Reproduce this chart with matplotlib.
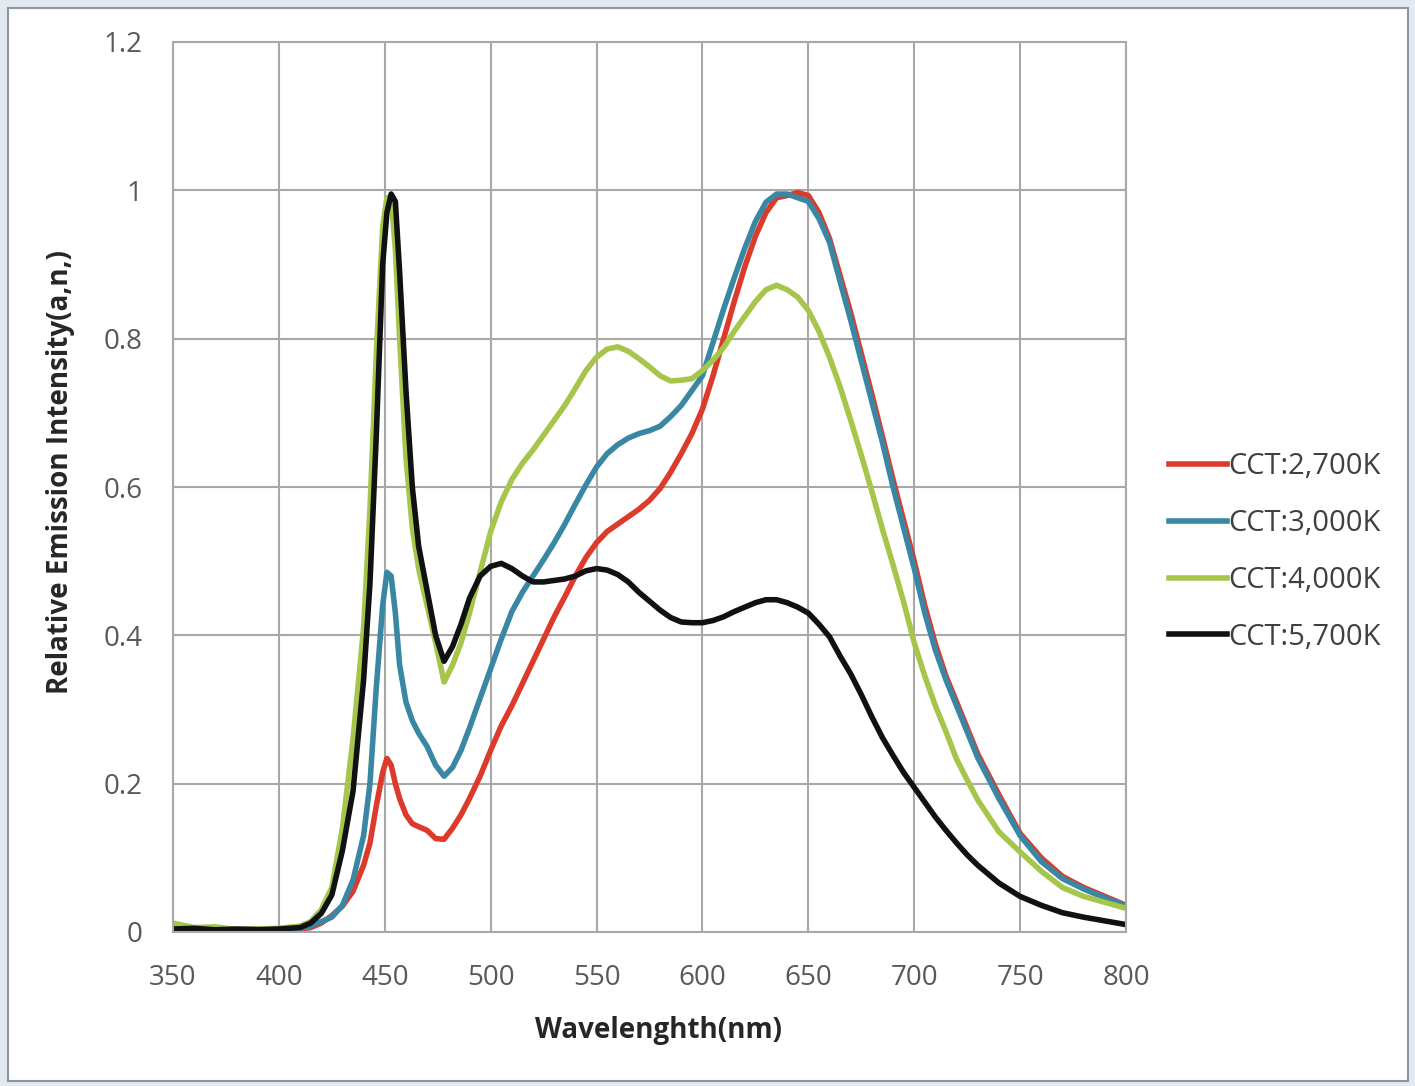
import matplotlib
matplotlib.use("Agg")
import matplotlib.pyplot as plt
from matplotlib.patches import Rectangle

plt.rcParams['font.family'] = ['Open Sans', 'DejaVu Sans']

wl = [350, 360, 370, 380, 390, 400, 410, 415, 420, 425, 430, 435, 440, 443, 446, 449,
      451, 453, 455, 457, 460, 463, 466, 470, 474, 478, 482, 486, 490, 495, 500, 505,
      510, 515, 520, 525, 530, 535, 540, 545, 550, 555, 560, 565, 570, 575, 580, 585,
      590, 595, 600, 605, 610, 615, 620, 625, 630, 635, 640, 645, 650, 655, 660, 665,
      670, 675, 680, 685, 690, 695, 700, 705, 710, 715, 720, 725, 730, 740, 750, 760,
      770, 780, 790, 800]

cct_2700 = [0.005, 0.004, 0.004, 0.003, 0.004, 0.004, 0.004, 0.006, 0.012, 0.022, 0.035, 0.055,
            0.09, 0.12, 0.17, 0.215, 0.234, 0.225, 0.2, 0.18, 0.158, 0.146, 0.142, 0.137,
            0.126, 0.125, 0.14, 0.158, 0.18, 0.21, 0.245, 0.278, 0.305, 0.335, 0.365, 0.395,
            0.425, 0.452, 0.48, 0.505, 0.525, 0.54, 0.55, 0.56, 0.57, 0.582, 0.598, 0.62,
            0.645, 0.672, 0.705, 0.75, 0.8, 0.85, 0.897, 0.938, 0.97, 0.99, 0.993, 0.997,
            0.993, 0.97, 0.935, 0.885, 0.835, 0.78, 0.725, 0.668, 0.61, 0.555, 0.5, 0.44,
            0.388, 0.345, 0.31, 0.275, 0.24, 0.185, 0.133, 0.1, 0.075, 0.06, 0.048, 0.036]

cct_3000 = [0.005, 0.004, 0.005, 0.003, 0.004, 0.004, 0.005, 0.008, 0.014, 0.02, 0.036, 0.07,
            0.13, 0.2, 0.33, 0.44, 0.485, 0.48, 0.43, 0.36, 0.31, 0.285, 0.268, 0.25,
            0.225, 0.21, 0.222, 0.245, 0.275, 0.315, 0.355, 0.395, 0.432, 0.458, 0.48, 0.502,
            0.525, 0.55, 0.577, 0.603, 0.627, 0.645, 0.657, 0.666, 0.672, 0.676, 0.682, 0.695,
            0.71, 0.73, 0.75, 0.795, 0.84, 0.882, 0.922, 0.958, 0.984, 0.995, 0.995, 0.99,
            0.985, 0.962, 0.93, 0.877, 0.825, 0.77, 0.715, 0.66, 0.6, 0.545, 0.49, 0.43,
            0.38, 0.34, 0.305, 0.27, 0.235, 0.18, 0.13, 0.095, 0.072, 0.058, 0.046, 0.035]

cct_4000 = [0.012, 0.006, 0.007, 0.003, 0.004, 0.005, 0.008, 0.014, 0.03, 0.06, 0.14, 0.26,
            0.41, 0.57, 0.78, 0.95, 0.99, 0.99, 0.92, 0.80, 0.64, 0.545, 0.49, 0.44,
            0.39, 0.337, 0.36, 0.39, 0.43, 0.485, 0.54, 0.58, 0.61, 0.632, 0.65, 0.67,
            0.69, 0.71, 0.733, 0.757, 0.775, 0.786, 0.789, 0.783, 0.773, 0.762, 0.75, 0.743,
            0.744, 0.746, 0.757, 0.771, 0.788, 0.81, 0.83, 0.85, 0.866, 0.872, 0.866, 0.856,
            0.838, 0.81, 0.775, 0.735, 0.69, 0.643, 0.594, 0.543, 0.495, 0.445, 0.39, 0.345,
            0.305, 0.27, 0.233, 0.205, 0.178, 0.135, 0.108, 0.082, 0.06, 0.048, 0.04, 0.032]

cct_5700 = [0.004, 0.005, 0.003, 0.004, 0.003, 0.004, 0.006, 0.012, 0.025, 0.05, 0.11, 0.19,
            0.34, 0.47, 0.67, 0.90, 0.97, 0.995, 0.985, 0.89, 0.73, 0.60, 0.52, 0.46,
            0.40, 0.365, 0.385, 0.415, 0.45, 0.48, 0.493, 0.497, 0.49, 0.48, 0.472, 0.472,
            0.474, 0.476, 0.48, 0.487, 0.49, 0.488, 0.482, 0.472, 0.458, 0.446, 0.434, 0.424,
            0.418, 0.417, 0.417, 0.42, 0.425, 0.432, 0.438, 0.444, 0.448, 0.448, 0.444, 0.438,
            0.43, 0.415, 0.398, 0.372, 0.348, 0.32, 0.29, 0.262, 0.238, 0.215, 0.195, 0.175,
            0.155, 0.137, 0.12, 0.104, 0.09, 0.066, 0.048, 0.036, 0.026, 0.02, 0.015, 0.01]

labels = ['CCT:2,700K', 'CCT:3,000K', 'CCT:4,000K', 'CCT:5,700K']
colors = ['#dc3a2b', '#3a87a4', '#a5c54b', '#111111']

fig = plt.figure(figsize=(14.15, 10.86), dpi=100)
fig.patch.set_facecolor('#e3e9f0')
frame = Rectangle((8/1415, 5/1086), 1400/1415, 1073/1086, transform=fig.transFigure,
                  facecolor='white', edgecolor='#8d97a4', linewidth=1.5, zorder=-10)
fig.patches.append(frame)

ax = fig.add_axes([173/1415, 154/1086, 953/1415, 890/1086])
ax.set_facecolor('white')
for y, lab, c in zip([cct_2700, cct_3000, cct_4000, cct_5700], labels, colors):
    ax.plot(wl, y, color=c, lw=4, label=lab, solid_joinstyle='round')

ax.set_xlim(350, 800)
ax.set_ylim(0, 1.2)
ax.set_xticks(range(350, 801, 50))
ax.set_yticks([0, 0.2, 0.4, 0.6, 0.8, 1.0, 1.2])
ax.set_yticklabels(['0', '0.2', '0.4', '0.6', '0.8', '1', '1.2'])
ax.grid(True, color='#a8a8a8', lw=1.5)
ax.set_axisbelow(True)
for s in ax.spines.values():
    s.set_color('#a8a8a8')
    s.set_linewidth(1.5)
ax.tick_params(length=0, labelsize=20, labelcolor='#595959')
ax.tick_params(axis='x', pad=23)
ax.tick_params(axis='y', pad=22)

ax.set_xlabel('Wavelenghth(nm)', fontsize=20, fontweight='bold', color='#262626')
ax.set_ylabel('Relative Emission Intensity(a,n,)', fontsize=20, fontweight='bold', color='#262626')
ax.xaxis.set_label_coords(0.509, -0.094)
ax.yaxis.set_label_coords(-0.103, 0.517)

leg = ax.legend(loc='center left', bbox_to_anchor=(1157/1415, 534/1086), bbox_transform=fig.transFigure,
                frameon=False, fontsize=21, handlelength=2.0, handletextpad=0.03, labelspacing=0.95,
                borderaxespad=0)
for t in leg.get_texts():
    t.set_color('#404040')

fig.savefig('out.png', dpi=100, facecolor=fig.get_facecolor())
